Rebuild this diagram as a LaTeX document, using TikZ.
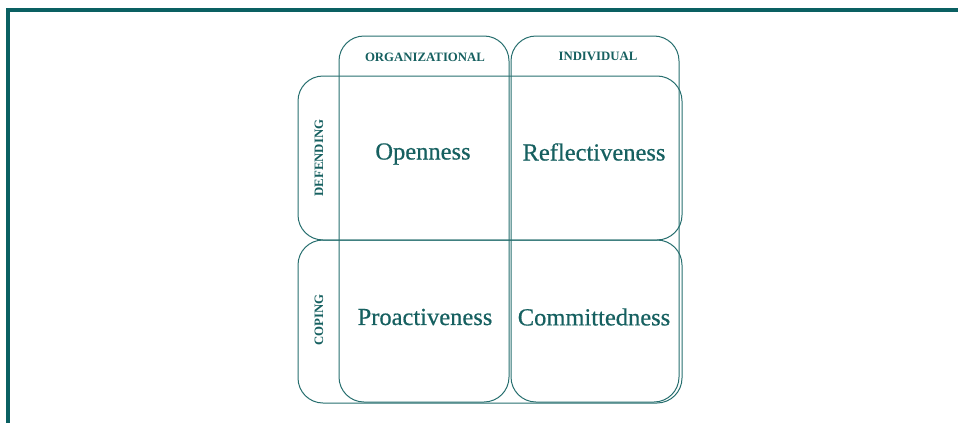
\documentclass[tikz,border=0pt]{standalone}
\usepackage{fontspec}
\setmainfont{Liberation Serif}
\newfontfamily\heavyserif[FakeBold=0.6]{Liberation Serif}
\definecolor{frame}{RGB}{10,96,98}
\definecolor{teal2}{RGB}{38,110,110}
\definecolor{txt}{RGB}{22,96,96}
\tikzset{
  cell/.style={draw=teal2, line width=1pt, rounded corners=25pt},
  big/.style={text=txt, font=\heavyserif\fontsize{24.5}{28}\selectfont},
  small/.style={text=txt, font=\bfseries\fontsize{12.8}{15}\selectfont},
}
\begin{document}
\begin{tikzpicture}[x=1pt,y=-1pt]
\useasboundingbox (0,0) rectangle (958,423);
% frame
\draw[frame, line width=3.6pt] (958,10) -- (8,10) -- (8,423);
% columns
\draw[cell] (339,36) rectangle (509,402);
\draw[cell] (511,36) rectangle (679,402);
% rows
\draw[cell] (298,76) rectangle (682,240);
\draw[cell] (298,240) rectangle (682,403);
% labels
\node[small] (org) at (425,57) {ORGANIZATIONAL};
\node[small] (ind) at (598,56) {INDIVIDUAL};
\node[small, rotate=90] (def) at (319,158) {DEFENDING};
\node[small, rotate=90] (cop) at (319,320) {COPING};
\node[big] (open) at (423,154) {Openness};
\node[big] (refl) at (594,152) {Reflectiveness};
\node[big] (proa) at (425,317) {Proactiveness};
\node[big] (comm) at (594,317) {Committedness};
\end{tikzpicture}
\end{document}
